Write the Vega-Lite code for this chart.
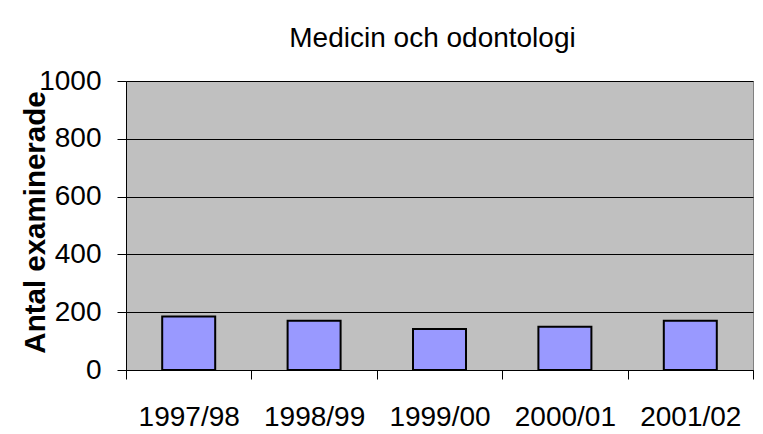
{
  "$schema": "https://vega.github.io/schema/vega-lite/v6.json",
  "width": 627,
  "height": 289,
  "autosize": {"type": "none"},
  "padding": {"left": 126, "top": 81, "right": 10, "bottom": 64},
  "background": "white",
  "title": {
    "text": "Medicin och odontologi",
    "font": "Liberation Sans",
    "fontSize": 28,
    "fontWeight": "normal",
    "color": "#000000",
    "anchor": "middle",
    "frame": "group",
    "baseline": "alphabetic",
    "offset": -8,
    "dx": -7
  },
  "data": {
    "values": [
      {"year": "1997/98", "count": 185},
      {"year": "1998/99", "count": 170},
      {"year": "1999/00", "count": 142},
      {"year": "2000/01", "count": 150},
      {"year": "2001/02", "count": 170}
    ]
  },
  "mark": {"type": "bar", "fill": "#9999ff", "stroke": "#000000", "strokeWidth": 2, "width": {"band": 0.4226}},
  "encoding": {
    "x": {
      "field": "year",
      "type": "nominal",
      "sort": null,
      "scale": {"paddingInner": 0, "paddingOuter": 0},
      "axis": {
        "title": null,
        "labelAngle": 0,
        "tickBand": "extent",
        "tickSize": 9,
        "tickColor": "#000000",
        "domainColor": "#000000",
        "labelFont": "Liberation Sans",
        "labelFontSize": 28,
        "labelColor": "#000000",
        "labelBaseline": "alphabetic",
        "labelPadding": 46,
        "grid": false
      }
    },
    "y": {
      "field": "count",
      "type": "quantitative",
      "scale": {"domain": [0, 1000], "nice": false},
      "axis": {
        "values": [0, 200, 400, 600, 800, 1000],
        "format": "d",
        "title": "Antal examinerade",
        "titleFont": "Liberation Sans",
        "titleFontSize": 29.5,
        "titleFontWeight": "bold",
        "titleColor": "#000000",
        "titleAngle": 270,
        "titleX": -82,
        "titleY": 141,
        "titleAlign": "center",
        "titleBaseline": "alphabetic",
        "labelFont": "Liberation Sans",
        "labelFontSize": 28,
        "labelColor": "#000000",
        "labelPadding": 16,
        "tickSize": 9,
        "tickColor": "#000000",
        "domainColor": "#000000",
        "grid": true,
        "gridColor": "#000000",
        "gridWidth": 1
      }
    }
  },
  "config": {
    "view": {"fill": "#c0c0c0", "stroke": "#808080"}
  }
}
